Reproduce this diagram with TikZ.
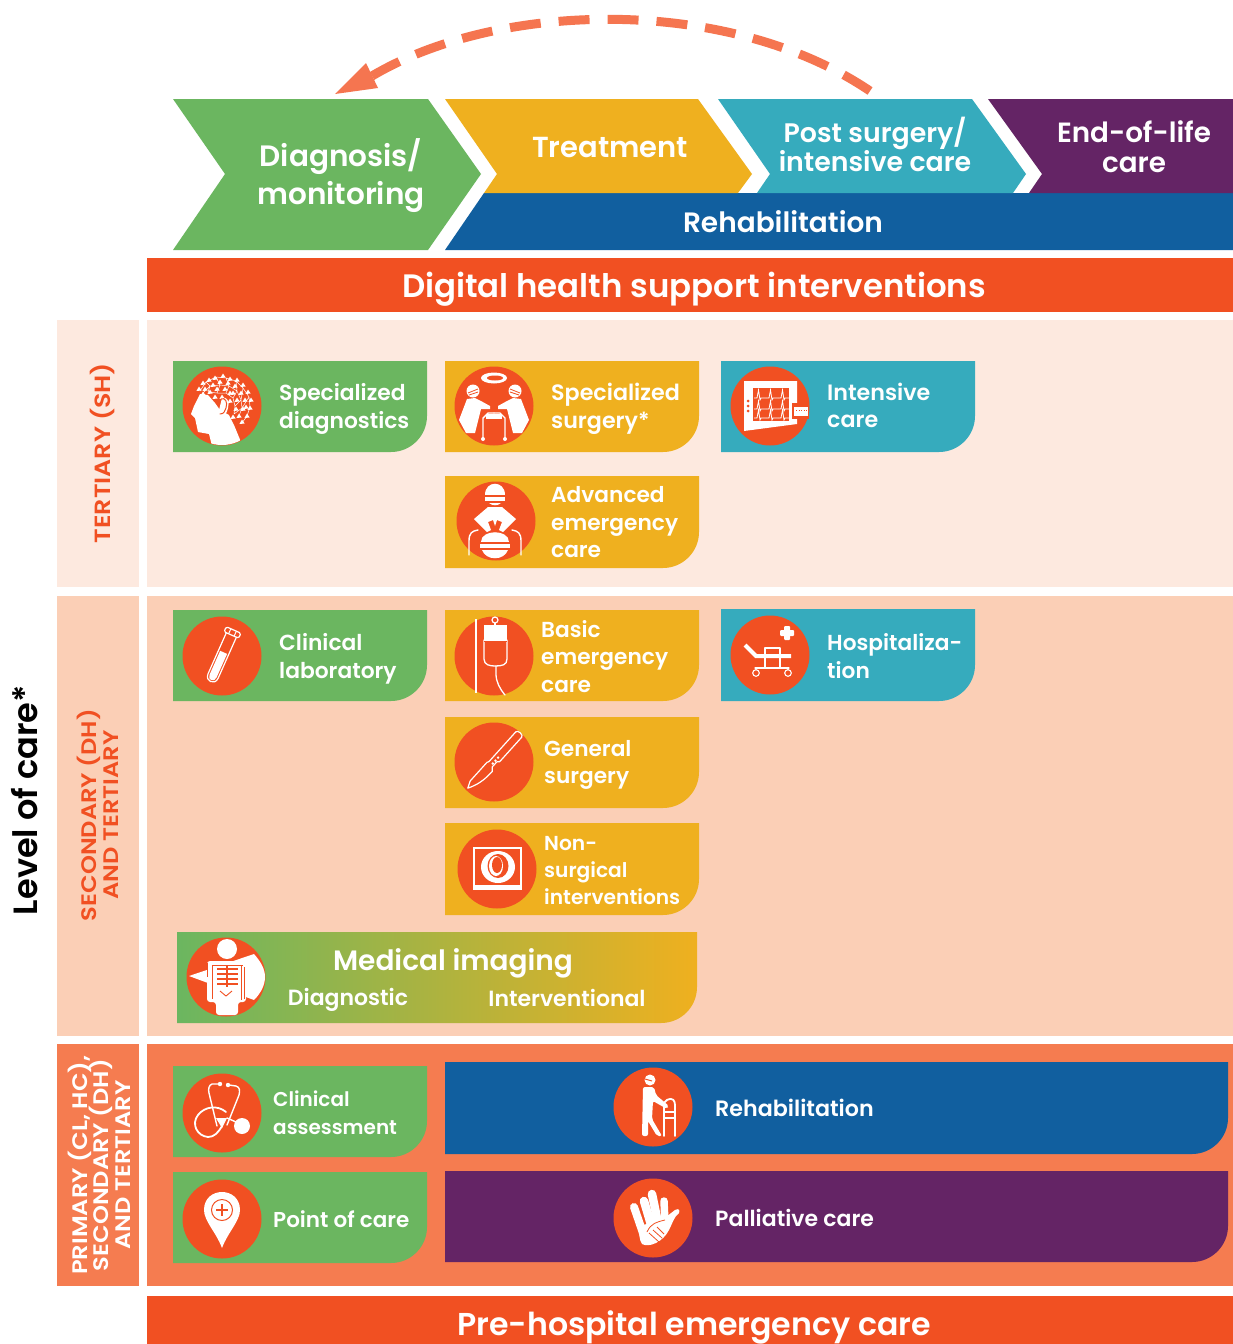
\documentclass[tikz,border=0pt]{standalone}
\usepackage{fontspec}
\setmainfont{Poppins SemiBold}
\definecolor{cgreen}{HTML}{6BB660}
\definecolor{cyellow}{HTML}{EFB01F}
\definecolor{cteal}{HTML}{36ABBD}
\definecolor{cpurple}{HTML}{642465}
\definecolor{cblue}{HTML}{115F9F}
\definecolor{cred}{HTML}{F15022}
\definecolor{carrow}{HTML}{F57550}
\definecolor{ptert}{HTML}{FDE9DF}
\definecolor{psec}{HTML}{FBCFB6}
\definecolor{pprim}{HTML}{F57C50}
\newcommand{\fs}[2]{\fontsize{#1}{#2}\selectfont\lineskiplimit=-50pt\relax}
\newcommand{\cardshape}[6]{% x1 y1 x2 y2 r colour
  \fill[#6] (#1,#2) -- (#3,#2) -- (#3,#4-#5) .. controls (#3,#4-0.45*#5) and (#3-0.45*#5,#4) .. (#3-#5,#4) -- (#1,#4) -- cycle;}
\newcommand{\disc}[1]{\fill[cred] #1 circle[radius=39.5pt];}
\tikzset{
  cardtxt/.style={text=white,font=\fs{21.7}{27.5},align=left,anchor=west,inner sep=0pt},
  headtxt/.style={text=white,align=center,anchor=center,inner sep=0pt},
  sidetxt/.style={align=center,anchor=center,inner sep=0pt,rotate=90,font=\fs{21}{21.7}},
  widetxt/.style={xscale=1.15},
  iconline/.style={draw=white,line width=1.4pt,fill=none,line cap=round,line join=round},
  iconcut/.style={draw=cred,line width=1.1pt,fill=none,line cap=round,line join=round},
}
\begin{document}
\begin{tikzpicture}[x=1pt,y=-1pt]
\useasboundingbox (0,0) rectangle (1233,1344);
\fill[white] (0,0) rectangle (1233,1344);
% process chevrons
\fill[cblue] (484,193) -- (1233,193) -- (1233,250) -- (445,250) -- cycle;
\fill[cgreen] (173,99) -- (428,99) -- (481,174) -- (428,250) -- (173,250) -- (225,174) -- cycle;
\fill[cyellow] (445,99) -- (698,99) -- (752,174) -- (738,193) -- (484,193) -- (497,174) -- cycle;
\fill[cteal] (718,99) -- (972,99) -- (1026,174) -- (1013,193) -- (757,193) -- (770,174) -- cycle;
\fill[cpurple] (988,99) -- (1233,99) -- (1233,193) -- (1029,193) -- (1042,174) -- cycle;
\node[headtxt,font=\fs{29.5}{38}] (diag) at (341,176) {Diagnosis/\\monitoring};
\node[headtxt,font=\fs{29}{30}] (treat) at (610,148) {Treatment};
\node[headtxt,font=\fs{26.8}{29}] (post) at (875,144) {Post surgery/\\intensive care};
\node[headtxt,font=\fs{27.8}{30}] (eol) at (1134,146.5) {End-of-life\\care};
\node[headtxt,font=\fs{28}{30}] (rehabtop) at (783,222) {Rehabilitation};
% feedback arrow
\coordinate (arrowstart) at (870,91);
\coordinate (arrowend) at (372,76);
\coordinate (arrowtip) at (335,94);
\draw[carrow,line width=9pt,dash pattern=on 31pt off 18pt] (arrowstart) .. controls (730,-4) and (500,0) .. (arrowend);
\fill[carrow] (arrowtip) -- (366,63) -- (378,88) -- cycle;
% bars and panels
\fill[cred] (147,258) rectangle (1233,312);
\node[headtxt,font=\fs{32.4}{34}] (digital) at (694,289) {Digital health support interventions};
\fill[ptert] (57,320) rectangle (139,587);
\fill[ptert] (147,320) rectangle (1233,587);
\fill[psec] (57,596) rectangle (139,1036);
\fill[psec] (147,596) rectangle (1233,1036);
\fill[pprim] (57,1044) rectangle (139,1286);
\fill[pprim] (147,1044) rectangle (1233,1286);
\fill[cred] (147,1296) rectangle (1233,1344);
\node[headtxt,font=\fs{31.6}{34}] (prehosp) at (694,1327) {Pre-hospital emergency care};
% side labels
\node[sidetxt,widetxt,text=cred,font=\fs{22}{22}] (tert) at (103,453) {TERTIARY (SH)};
\node[sidetxt,widetxt,text=cred] (sec) at (98,815) {SECONDARY (DH)\\AND TERTIARY};
\node[sidetxt,widetxt,text=white] (prim) at (99,1165) {PRIMARY (CL, HC),\\SECONDARY (DH)\\AND TERTIARY};
\node[sidetxt,text=black,font=\fs{33.6}{34}] (level) at (25,800) {Level of care*};
% cards
\cardshape{173}{361}{427}{452}{36}{cgreen}
\cardshape{445}{361}{699}{452}{36}{cyellow}
\cardshape{721}{361}{975}{452}{36}{cteal}
\cardshape{445}{476}{699}{568}{36}{cyellow}
\cardshape{173}{610}{427}{701}{36}{cgreen}
\cardshape{445}{610}{699}{701}{36}{cyellow}
\cardshape{721}{609}{975}{701}{36}{cteal}
\cardshape{445}{717}{699}{808}{36}{cyellow}
\cardshape{445}{823}{699}{915}{36}{cyellow}
\path[left color=cgreen,right color=cyellow] (177,932) -- (697,932) -- (697,987) .. controls (697,1007) and (681,1023) .. (661,1023) -- (177,1023) -- cycle;
\cardshape{173}{1066}{427}{1157}{36}{cgreen}
\cardshape{173}{1172}{427}{1263}{36}{cgreen}
\cardshape{445}{1062}{1228}{1154}{36}{cblue}
\cardshape{445}{1171}{1228}{1262}{36}{cpurple}
% card texts
\node[cardtxt,font=\fs{21.8}{27.5}] (t1) at (279,409) {Specialized\\diagnostics};
\node[cardtxt,font=\fs{22.2}{27.5}] (t2) at (551,409) {Specialized\\surgery*};
\node[cardtxt,font=\fs{22.2}{27.5}] (t3) at (827,405.5) {Intensive\\care};
\node[cardtxt] (t4) at (551,522.5) {Advanced\\emergency\\care};
\node[cardtxt,font=\fs{21.8}{27.5}] (t5) at (279,659) {Clinical\\laboratory};
\node[cardtxt] (t6) at (541,656.5) {Basic\\emergency\\care};
\node[cardtxt] (t7) at (827,656) {Hospitaliza-\\tion};
\node[cardtxt] (t8) at (544,765) {General\\surgery};
\node[cardtxt,font=\fs{20.2}{27}] (t9) at (544,871) {Non-\\surgical\\interventions};
\node[headtxt,font=\fs{28}{30}] (t10) at (453,963) {Medical imaging};
\node[headtxt,font=\fs{22}{25}] (t11) at (348,1000) {Diagnostic};
\node[headtxt,font=\fs{22}{25}] (t12) at (567,998) {Interventional};
\node[cardtxt,font=\fs{20}{28}] (t13) at (273,1113) {Clinical\\assessment};
\node[cardtxt,font=\fs{21.5}{27.5}] (t14) at (273,1219) {Point of care};
\node[cardtxt,font=\fs{22.2}{27.5}] (t15) at (715,1108) {Rehabilitation};
\node[cardtxt,font=\fs{22}{27.5}] (t16) at (715,1218) {Palliative care};
% ---- icons ----
% head
\disc{(222,406)}
\begin{scope}[shift={(222,406)}]
\begin{scope}
\clip (0,0) circle[radius=39pt];
\draw[white,line width=.5pt] (-22,-15) -- (-16,-24) -- (-6,-29) -- (4,-28) -- (14,-25) -- (21,-18) -- (27,-9) -- (28,1) -- (25,10) -- (20,17)
  (-20,-12) -- (-12,-20) -- (-2,-21) -- (7,-20) -- (15,-15) -- (19,-6) -- (20,2) -- (17,10)
  (-14,-14) -- (-5,-13) -- (4,-13) -- (11,-8) -- (13,0) -- (12,8)
  (-16,-24) -- (-12,-20) -- (-14,-14) (-6,-29) -- (-2,-21) -- (-5,-13) (4,-28) -- (7,-20) -- (4,-13) (14,-25) -- (15,-15) -- (11,-8) (21,-18) -- (19,-6) -- (13,0) (27,-9) -- (20,2) -- (12,8);
\foreach \px/\py in {-23/-17,-19/-23,-13/-26,-7/-28,1/-30,8/-27,15/-26,21/-21,26/-14,29/-6,28/2,25/10,20/16,13/-20,6/-23,-2/-24,-9/-21,-17/-17,19/-13,23/-6,21/3,17/10,11/-13,3/-17,-5/-17,-12/-14,15/-6,14/3,11/11,8/-5,0/-9,-7/-9,8/-13,24/1,-19/-12}{
  \fill[white] (\px-2.6,\py+2) -- (\px+2.6,\py+1.5) -- (\px,\py-2.5) -- cycle;
}
\fill[white] (-22,-12) -- (-14,-11) -- (-7,-3) -- (-2,4) -- (7,9) -- (12,19) -- (19,36) .. controls (8,40) and (-2,41) .. (-10,40) -- (-13,28) -- (-24,26) -- (-27,12) -- (-31,8) -- (-28,0) -- cycle;
\end{scope}
\fill[white] (0,-8) .. controls (5,-10) and (8,-4) .. (6,2) .. controls (5,6) and (4,10) .. (-1,10) -- (-3,4) -- cycle;
\draw[iconcut,line width=1pt] (-1,-7) .. controls (3,-9) and (6,-4) .. (4,2) .. controls (3,5) and (2,8) .. (-2,8);
\end{scope}
% surgeons
\disc{(494,406)}
\begin{scope}[shift={(494,406)}]
\fill[white] (0,-28) ellipse[x radius=13pt,y radius=5.5pt];
\fill[cred] (1,-28) ellipse[x radius=8pt,y radius=2.5pt];
\foreach \m in {1,-1}{
 \begin{scope}[xscale=\m]
 \fill[white] (21,-15) circle[radius=6.5pt];
 \draw[cred,line width=.8pt] (16,-17) -- (26,-13) (16,-14) -- (25,-11);
 \fill[white] (27,-7) -- (35,14) -- (28,27) -- (19,27) -- (13,3) -- (4,3) -- (4,0) -- (13,-5) -- (19,-8) -- cycle;
 \draw[iconline] (0,7) -- (6,7) -- (11,12) -- (11,32);
 \fill[white] (11,33) circle[radius=2pt];
 \end{scope}}
\fill[white] (-8,8) rectangle (8,13);
\end{scope}
% ICU monitor
\disc{(770,406)}
\begin{scope}[shift={(770,406)}]
\fill[white] (-26,-25) -- (27,-25) -- (27,18) -- (-26,25) -- cycle;
\fill[cred] (-17,-18) rectangle (19,15);
\foreach \yy in {-8,3,12}{ \foreach \xs in {-16,-4,8}{
  \draw[white,line width=.8pt] (\xs,\yy) -- (\xs+3,\yy) -- (\xs+4.5,\yy-8) -- (\xs+6,\yy+2) -- (\xs+7,\yy) -- (\xs+12,\yy);
}}
\foreach \yy in {-5,0,5}{\fill[cred] (-22,\yy) circle[radius=1.5pt];}
\fill[cred] (22,-3) rectangle (39,13);
\fill[white] (24,1) rectangle (38,10);
\draw[cred,line width=.7pt,dash pattern=on 1pt off 1.5pt] (26,4) -- (37,4);
\end{scope}
% emergency care
\disc{(496,521)}
\begin{scope}[shift={(496,521)}]
\fill[white] (-11,-26) .. controls (-11,-41) and (9,-41) .. (9,-26) -- cycle;
\fill[white] (-11,-24) rectangle (9,-20);
\fill[white] (-7,-18) .. controls (-4,-15) and (2,-15) .. (5,-18) -- cycle;
\fill[white] (-8,-14) -- (6,-14) -- (20,-2) -- (7,11) -- (3,9) -- (6,1) -- (1,-1) -- (-1,5) -- (-3,-1) -- (-8,1) -- (-5,9) -- (-9,11) -- (-22,-2) -- cycle;
\fill[white] (-15,21) .. controls (-15,8) and (13,8) .. (13,21) -- cycle;
\fill[white] (-16,23) rectangle (14,27);
\fill[white] (-14,29) .. controls (-10,40) and (8,40) .. (12,29) -- cycle;
\draw[iconline] (-27,34) -- (-27,20) .. controls (-27,12) and (-24,10) .. (-18,9);
\draw[iconline] (25,34) -- (25,20) .. controls (25,12) and (22,10) .. (16,9);
\end{scope}
% test tube
\disc{(222,656)}
\begin{scope}[shift={(222,656)},rotate=-24]
\draw[iconline,line width=1.2pt] (-5.5,-23) -- (-5.5,22) .. controls (-5.5,30) and (5.5,30) .. (5.5,22) -- (5.5,-23);
\fill[white] (-3.8,-4) -- (3.8,-4) -- (3.8,22) .. controls (3.8,28) and (-3.8,28) .. (-3.8,22) -- cycle;
\draw[iconline,line width=1.2pt,rounded corners=1.5pt] (-8,-28.5) rectangle (8,-23);
\draw[white,line width=1pt] (-3,-28.5) -- (-3,-23) (3,-28.5) -- (3,-23);
\end{scope}
% IV bag
\disc{(494,656)}
\begin{scope}[shift={(494,656)}]
\draw[white,line width=2pt] (-18,-37) -- (-18,37);
\fill[white] (-10,-31) rectangle (13,-15);
\draw[iconline,line width=1.3pt] (-10,-16) -- (-10,3) .. controls (-10,9) and (-4,10) .. (1,10) .. controls (8,10) and (13,9) .. (13,3) -- (13,-16);
\draw[iconline,line width=1.3pt] (1,-31) -- (1,-33);
\draw[iconline,line width=1.2pt] (1,-36) circle[radius=3pt];
\draw[cred,line width=1pt,dash pattern=on 1.5pt off 1.5pt] (-10,-15) -- (13,-15);
\draw[iconline,line width=1.3pt] (2,10) -- (2,18) .. controls (2,26) and (6,33) .. (11,39);
\end{scope}
% scalpel
\disc{(494,762)}
\begin{scope}[shift={(494,762)},rotate=-42]
\draw[iconline,line width=1.2pt] (-4,-37) .. controls (-4,-40) and (4,-40) .. (4,-37) -- (4,-4) -- (2,-2) -- (2,5) -- (5,8) .. controls (5,20) and (3,28) .. (-2,37) -- (-5,30) -- (-5,5) -- (-4,3) -- cycle;
\foreach \yy in {-7,-3,1}{\fill[white] (-.8,\yy) rectangle (1,\yy+2);}
\end{scope}
% imaging screen
\disc{(497,869)}
\begin{scope}[shift={(497,869)}]
\draw[white,line width=1.2pt] (-23,-21) rectangle (24,18);
\fill[white] (-24,16) rectangle (25,21);
\fill[white] (1,-2) ellipse[x radius=17pt,y radius=16pt];
\fill[cred] (1,-3) ellipse[x radius=10.5pt,y radius=12pt];
\fill[white] (-1,-3) ellipse[x radius=7pt,y radius=10pt];
\fill[cred] (0,-4) ellipse[x radius=5pt,y radius=8pt];
\end{scope}
% x-ray
\disc{(226,977)}
\begin{scope}[shift={(226,977)}]
\fill[white] (1,-28) circle[radius=10pt];
\fill[white,rounded corners=3pt] (-19,-16) -- (20,-16) -- (20,25) -- (12,25) -- (12,38) -- (-10,38) -- (-10,25) -- (-19,25) -- cycle;
\fill[white] (-37,-1) -- (28,-23) .. controls (35,-15) and (39,-8) .. (39,0) .. controls (39,8) and (35,16) .. (28,23) -- cycle;
\draw[cred,line width=.9pt] (-14,-12) -- (-14,22) (-19,-14) -- (-19,0) (15,-12) -- (15,23) (18,-10) -- (18,22) (-14,-12) -- (17,-12);
\draw[cred,line width=1.3pt] (1,-12) -- (1,10);
\foreach \yy in {-8,-3,2,7}{\draw[cred,line width=1.1pt] (-9,\yy) -- (12,\yy);}
\draw[cred,line width=.9pt] (-6,14) -- (0,19) -- (6,14);
\end{scope}
% stethoscope
\disc{(222,1113)}
\begin{scope}[shift={(222,1113)}]
\fill[white] (-2,-29) circle[radius=2.2pt] (6,-28) circle[radius=2.2pt];
\draw[iconline] (-3,-29) -- (-10,-29) .. controls (-13,-28) and (-14,-24) .. (-13,-20) -- (-5,13);
\draw[iconline] (7,-28) -- (14,-27) .. controls (18,-26) and (18,-22) .. (17,-18) -- (5,12);
\draw[iconline,line width=1.8pt] (4,-1) .. controls (-4,-8) and (-17,-7) .. (-24,2) .. controls (-31,11) and (-25,23) .. (-14,24) .. controls (-8,24) and (-4,20) .. (0,13);
\fill[white] (-6,5) -- (5,5) -- (0,15) -- cycle;
\fill[white] (20,13) circle[radius=8pt];
\draw[iconline] (5,5) -- (14,9);
\end{scope}
% pin
\disc{(222,1219)}
\begin{scope}[shift={(222,1219)}]
\fill[white] (-18,-9) .. controls (-18,-33) and (18,-33) .. (18,-9) .. controls (18,2) and (6,13) .. (0,29) .. controls (-6,13) and (-18,2) .. (-18,-9) -- cycle;
\draw[cred,line width=1pt] (0,-9) circle[radius=10.5pt];
\draw[cred,line width=1.2pt] (-6,-9) -- (6,-9) (0,-15) -- (0,-3);
\end{scope}
% walker
\disc{(653,1107)}
\begin{scope}[shift={(653,1107)}]
\fill[white] (-3,-27) circle[radius=5.5pt];
\draw[cred,line width=1pt] (-8,-28) -- (-1,-26);
\fill[white,rounded corners=2pt] (-10,-20) -- (1,-20) -- (3,-12) -- (16,-1) -- (14,2) -- (0,-6) -- (-1,12) -- (9,29) -- (4,29) -- (-5,14) -- (-5,29) -- (-11,29) -- cycle;
\draw[iconline,line width=1.8pt] (11,29) -- (11,-1) .. controls (11,-8) and (17,-8) .. (18,-8) .. controls (22,-8) and (22,-3) .. (22,0) -- (22,29);
\draw[iconline,line width=1.5pt] (11,5) -- (22,5) (11,11) -- (22,11);
\end{scope}
% hands
\disc{(653,1218)}
\begin{scope}[shift={(653,1218)}]
\draw[white,line width=8pt,line cap=round] (-19,-11) -- (-9,18);
\draw[white,line width=8.5pt,line cap=round] (-9,-17) -- (-1,10);
\draw[white,line width=8.5pt,line cap=round] (-1,-24) -- (5,5);
\draw[white,line width=7.5pt,line cap=round] (11,-17) -- (12,5);
\fill[white] (-14,8) -- (9,2) -- (22,-8) .. controls (26,-10) and (27,-8) .. (26,-5) .. controls (21,-1) and (20,4) .. (16,12) .. controls (10,24) and (-4,30) .. (-11,26) .. controls (-14,22) and (-14,14) .. (-14,8) -- cycle;
\draw[cred,line width=.8pt] (-6,14) .. controls (-2,5) and (4,4) .. (12,2);
\draw[cred,line width=.8pt] (-4,15) -- (6,24) (0,12) -- (9,20) (4,9) -- (11,16);
\end{scope}
% bed
\disc{(770,655)}
\begin{scope}[shift={(770,655)}]
\fill[white,rounded corners=1pt] (14,-29) rectangle (20,-15);
\fill[white,rounded corners=1pt] (10,-25) rectangle (24,-19);
\draw[white,line width=4pt] (-25,-10) -- (-14,1) -- (21,1);
\draw[iconline,line width=1.1pt] (-5,1) -- (-5,-7) -- (10,-7) -- (10,12);
\draw[iconline,line width=1.1pt] (-5,1) -- (-5,12);
\draw[iconline,line width=1.1pt] (-15,13) -- (19,13);
\draw[iconline,line width=1.1pt] (-14,13) -- (-14,14) (18,13) -- (18,14);
\draw[iconline,line width=1.1pt] (-14,18) circle[radius=3.3pt] (18,18) circle[radius=3.3pt];
\end{scope}
\end{tikzpicture}
\end{document}
